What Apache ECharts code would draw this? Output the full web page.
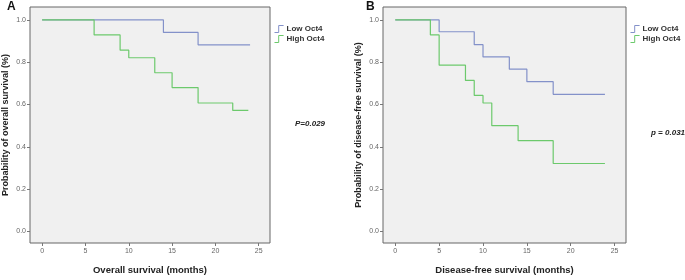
<!DOCTYPE html>
<html>
<head>
<meta charset="utf-8">
<script src="https://cdn.jsdelivr.net/npm/echarts@6/dist/echarts.min.js"></script>
<style>
  html, body { margin: 0; padding: 0; background: #fff; }
  #chart { width: 685px; height: 280px; }
</style>
</head>
<body>
<div id="chart"></div>
<script>
(function () {
  "use strict";
  const chart = echarts.init(document.getElementById("chart"));

  // Kaplan-Meier steps (time in months, survival)
  const lowATime = [0, 14, 18, 24];
  const lowASurv = [1.0, 0.941, 0.882, 0.882];
  const highATime = [0, 6, 9, 10, 13, 15, 18, 22, 23.8];
  const highASurv = [1.0, 0.929, 0.857, 0.821, 0.75, 0.68, 0.607, 0.572, 0.572];

  const lowBTime = [0, 5, 9, 10, 13, 15, 18, 23.9];
  const lowBSurv = [1.0, 0.944, 0.883, 0.825, 0.767, 0.708, 0.648, 0.648];
  const highBTime = [0, 4, 5, 8, 9, 10, 11, 14, 18, 23.9];
  const highBSurv = [1.0, 0.929, 0.786, 0.714, 0.643, 0.607, 0.5, 0.429, 0.321, 0.321];

  const xTicks = [0, 5, 10, 15, 20, 25];
  const yTicks = [0, 0.2, 0.4, 0.6, 0.8, 1.0];

  const LOW = "#8391c9";
  const HIGH = "#6cc96c";
  const FONT = "Liberation Sans, Arial, sans-serif";
  const zip = (t, s) => t.map((v, i) => [v, s[i]]);

  const xAxis = (gridIndex, name) => ({
    type: "value", gridIndex, min: -1.4, max: 26.3,
    name, nameLocation: "middle", nameGap: 22,
    nameTextStyle: { fontFamily: FONT, fontWeight: "bold", fontSize: 9.5, color: "#222" },
    axisLine: { show: false, onZero: false },
    splitLine: { show: false },
    axisTick: { show: true, length: 3, lineStyle: { color: "#777" }, customValues: xTicks },
    axisLabel: { fontFamily: FONT, fontSize: 7, color: "#666", margin: 5, customValues: xTicks },
  });
  const yAxis = (gridIndex, name) => ({
    type: "value", gridIndex, min: -0.055, max: 1.061,
    name, nameLocation: "middle", nameGap: 20,
    nameTextStyle: { fontFamily: FONT, fontWeight: "bold", fontSize: 9, color: "#222" },
    axisLine: { show: false, onZero: false },
    splitLine: { show: false },
    axisTick: { show: true, length: 3, lineStyle: { color: "#777" }, customValues: yTicks },
    axisLabel: { fontFamily: FONT, fontSize: 7, color: "#666", margin: 4, customValues: yTicks, formatter: v => v.toFixed(1) },
  });
  const km = (name, data, color, idx) => ({
    name, type: "line", step: "end", data, xAxisIndex: idx, yAxisIndex: idx,
    showSymbol: false, lineStyle: { color, width: 1.2 }, itemStyle: { color }, animation: false,
  });
  const legendItem = (name, color) => ({
    name, itemStyle: { color: "transparent", borderColor: color, borderWidth: 1 },
  });
  const legend = (left) => ({
    left, top: 20, orient: "vertical", itemWidth: 13, itemHeight: 7, itemGap: 2,
    icon: "path://M0,10 L6,10 L6,0 L13,0",
    textStyle: { fontFamily: FONT, fontSize: 8, fontWeight: "bold", color: "#333", padding: [0, 0, 0, -4] },
    data: [legendItem("Low Oct4", LOW), legendItem("High Oct4", HIGH)],
  });

  chart.setOption({
    animation: false,
    title: [
      { text: "A", left: 2, top: -4, textStyle: { fontFamily: FONT, fontSize: 12, fontWeight: "bold", color: "#111" } },
      { text: "B", left: 361, top: -4, textStyle: { fontFamily: FONT, fontSize: 12, fontWeight: "bold", color: "#111" } },
      { text: "P=0.029", left: 290, top: 115, textStyle: { fontFamily: FONT, fontSize: 8, fontWeight: "bold", fontStyle: "italic", color: "#222" } },
      { text: "p = 0.031", left: 646, top: 124, textStyle: { fontFamily: FONT, fontSize: 8, fontWeight: "bold", fontStyle: "italic", color: "#222" } },
    ],
    legend: [legend(269), legend(625)],
    grid: [
      { left: 27, top: 7, width: 243, height: 245, show: true, backgroundColor: "#f0f0f0", borderColor: "#666", borderWidth: 1 },
      { left: 383, top: 7, width: 243, height: 245, show: true, backgroundColor: "#f0f0f0", borderColor: "#666", borderWidth: 1 },
    ],
    xAxis: [xAxis(0, "Overall survival (months)"), xAxis(1, "Disease-free survival (months)")],
    yAxis: [yAxis(0, "Probability of overall survival (%)"), yAxis(1, "Probability of disease-free survival (%)")],
    series: [
      km("Low Oct4", zip(lowATime, lowASurv), LOW, 0),
      km("High Oct4", zip(highATime, highASurv), HIGH, 0),
      km("Low Oct4", zip(lowBTime, lowBSurv), LOW, 1),
      km("High Oct4", zip(highBTime, highBSurv), HIGH, 1),
    ],
  });
})();
</script>
</body>
</html>
